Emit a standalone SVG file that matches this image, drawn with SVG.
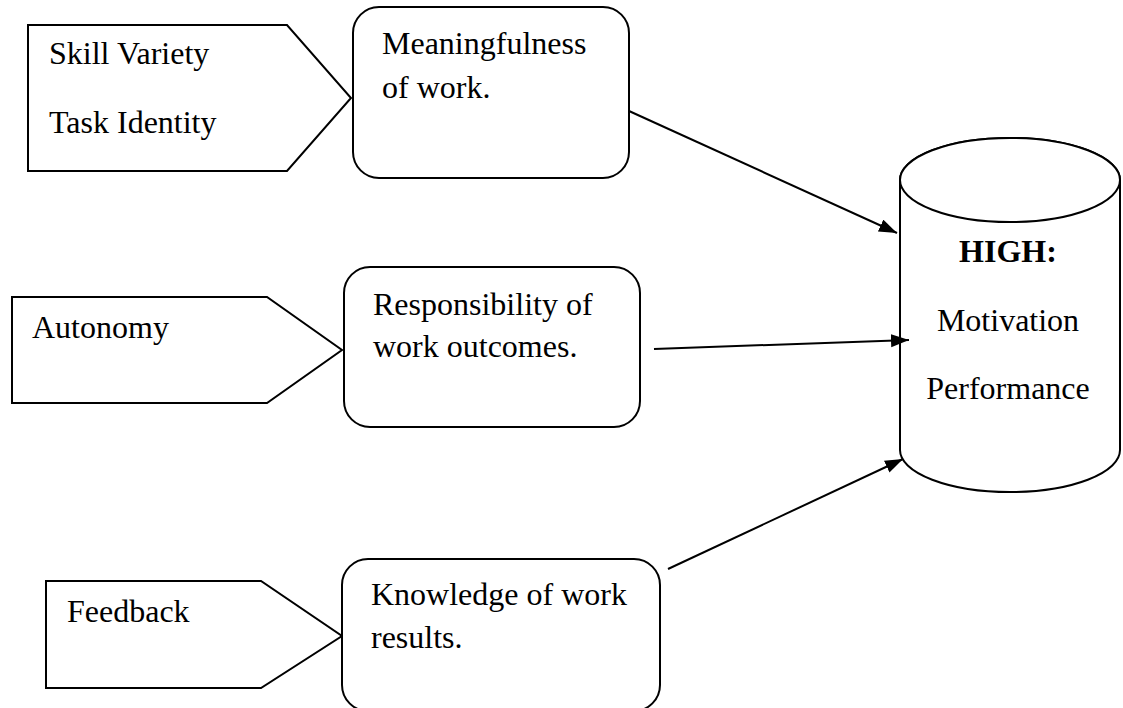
<svg xmlns="http://www.w3.org/2000/svg" width="1123" height="708" viewBox="0 0 1123 708">
<style>
.shape{fill:#fff;stroke:#000;stroke-width:2}
.t{font-family:"Liberation Serif","Times New Roman",serif;font-size:32px;fill:#000}
.b{font-weight:bold}
.c{stroke:#000;stroke-width:2;fill:none}
</style>
<defs>
<marker id="ah" markerUnits="userSpaceOnUse" markerWidth="20" markerHeight="14" refX="18" refY="6.5" orient="auto">
<path d="M0,0 L18,6.5 L0,13 z" fill="#000"/>
</marker>
</defs>
<rect width="1123" height="708" fill="#fff"/>
<g id="skill-task">
<polygon class="shape" points="28,25 287,25 351,98 287,171 28,171"/>
<text class="t" x="49" y="64">Skill Variety</text>
<text class="t" x="49" y="133">Task Identity</text>
</g>
<g id="autonomy">
<polygon class="shape" points="12,297 267,297 342,350 267,403 12,403"/>
<text class="t" x="32" y="338">Autonomy</text>
</g>
<g id="feedback">
<polygon class="shape" points="46,581 261,581 342,636 261,688 46,688"/>
<text class="t" x="67" y="622">Feedback</text>
</g>
<g id="meaningfulness">
<rect class="shape" x="353" y="7" width="276" height="171" rx="26" ry="26"/>
<text class="t" x="382" y="54">Meaningfulness</text>
<text class="t" x="382" y="98">of work.</text>
</g>
<g id="responsibility">
<rect class="shape" x="344" y="267" width="296" height="160" rx="26" ry="26"/>
<text class="t" x="373" y="315">Responsibility of</text>
<text class="t" x="373" y="357">work outcomes.</text>
</g>
<g id="knowledge">
<rect class="shape" x="342" y="559" width="318" height="152" rx="26" ry="26"/>
<text class="t" x="371" y="605">Knowledge of work</text>
<text class="t" x="371" y="648">results.</text>
</g>
<g id="outcome">
<path class="shape" d="M900,180 L900,450 A110,42 0 0 0 1120,450 L1120,180 A110,42 0 0 0 900,180 Z"/>
<ellipse class="shape" cx="1010" cy="180" rx="110" ry="42"/>
<text class="t b" x="1008" y="262" text-anchor="middle">HIGH:</text>
<text class="t" x="1008" y="331" text-anchor="middle">Motivation</text>
<text class="t" x="1008" y="399" text-anchor="middle">Performance</text>
</g>
<g id="connectors">
<line class="c" x1="629" y1="111" x2="897" y2="233" marker-end="url(#ah)"/>
<line class="c" x1="654" y1="349" x2="909" y2="340" marker-end="url(#ah)"/>
<line class="c" x1="668" y1="569" x2="903" y2="459" marker-end="url(#ah)"/>
</g>
</svg>
